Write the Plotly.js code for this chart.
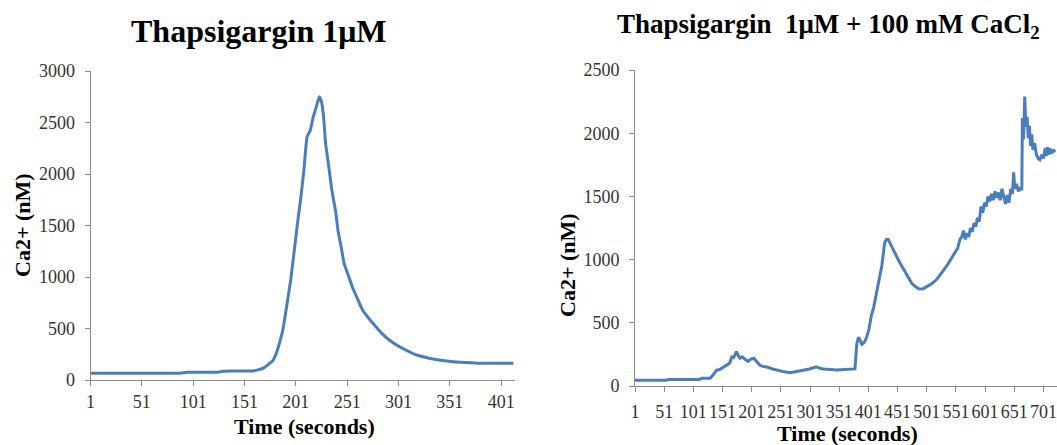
<!DOCTYPE html>
<html>
<head>
<meta charset="utf-8">
<script src="https://cdn.plot.ly/plotly-3.0.1.min.js"></script>
<style>
  html, body { margin: 0; padding: 0; background: #ffffff; }
  #chart { width: 1057px; height: 445px; }
</style>
</head>
<body>
<div id="chart"></div>
<script>
// ---- Left panel: Thapsigargin 1 µM ----
const leftTime = [1, 20, 50, 88, 95, 125, 130, 159, 164, 169, 174, 179, 182, 185, 188, 190, 193, 196, 200, 203, 206, 209, 212, 215, 218, 220, 222, 224, 226, 228, 230, 233, 236, 240, 242, 245, 248, 252, 256, 261, 266, 272, 279, 285, 292, 300, 308, 318, 331, 342, 354, 366, 380, 395, 413];
const leftCa   = [65, 65, 65, 66, 75, 76, 86, 88, 98, 113, 150, 194, 260, 356, 470, 583, 777, 971, 1300, 1550, 1780, 2050, 2362, 2420, 2556, 2620, 2690, 2750, 2700, 2560, 2300, 2080, 1850, 1620, 1456, 1300, 1133, 1020, 906, 790, 680, 600, 518, 450, 388, 335, 291, 245, 211, 192, 178, 170, 162, 162, 162];

// ---- Right panel: Thapsigargin 1 µM + 100 mM CaCl2 ----
const rightTime = [1, 55, 58, 112, 115, 130, 136, 141, 146, 150, 154, 158, 163, 167, 170, 172, 175, 178, 181, 185, 188, 190, 195, 200, 205, 210, 215, 220, 227, 237, 247, 257, 267, 280, 290, 300, 312, 318, 324, 335, 347, 360, 375, 378, 381, 384, 387, 390, 394, 398, 402, 406, 410, 415, 420, 424, 429, 432, 435, 440, 444, 450, 455, 460, 464, 470, 475, 482, 488, 495, 503, 510, 518, 526, 535, 542, 549, 554, 558, 561, 564, 567, 570, 573, 576, 579, 582, 585, 588, 591, 594, 597, 600, 603, 606, 609, 612, 615, 618, 621, 624, 627, 630, 633, 636, 639, 642, 645, 648, 650, 652, 655, 658, 661, 664, 665, 667, 669, 671, 673, 675, 677, 679, 681, 683, 686, 689, 692, 695, 698, 701, 704, 706, 708, 710, 712, 715, 718, 721];
const rightCa   = [45, 45, 52, 52, 62, 62, 95, 125, 130, 140, 150, 165, 180, 230, 225, 250, 272, 240, 220, 230, 215, 210, 195, 215, 218, 190, 165, 155, 150, 135, 122, 112, 105, 115, 125, 135, 152, 140, 135, 130, 127, 130, 132, 135, 330, 385, 360, 330, 345, 385, 450, 555, 620, 740, 850, 950, 1135, 1160, 1160, 1110, 1080, 1020, 975, 935, 905, 850, 815, 785, 768, 770, 790, 810, 842, 890, 948, 1000, 1055, 1090, 1160, 1180, 1230, 1160, 1210, 1180, 1250, 1220, 1290, 1260, 1330, 1300, 1420, 1370, 1450, 1420, 1500, 1460, 1520, 1470, 1540, 1490, 1530, 1470, 1560, 1490, 1440, 1510, 1450, 1560, 1520, 1690, 1560, 1600, 1540, 1570, 1550, 2120, 1950, 2290, 2050, 2130, 1960, 2060, 1900, 1990, 1870, 1920, 1830, 1800, 1790, 1830, 1800, 1880, 1820, 1890, 1830, 1880, 1840, 1870, 1850];

const leftTicks  = [1, 51, 101, 151, 201, 251, 301, 351, 401];
const rightTicks = [1, 51, 101, 151, 201, 251, 301, 351, 401, 451, 501, 551, 601, 651, 701];
const leftYTicks  = [0, 500, 1000, 1500, 2000, 2500, 3000];
const rightYTicks = [0, 500, 1000, 1500, 2000, 2500];

const leftTitle   = 'Thapsigargin 1μM';
const rightTitle  = 'Thapsigargin  1μM + 100 mM CaCl<sub>2</sub>';
const yTitle      = 'Ca2+ (nM)';
const xTitle      = 'Time (seconds)';

const W = 1057, H = 445;
const px = v => v / W;
const py = v => 1 - v / H;

const FONT = 'Liberation Serif';
const AXIS_COLOR = '#8c8c8c';
const LINE_COLOR = '#4A7EBB';

const baseAxis = {
  showgrid: false,
  zeroline: false,
  showline: true,
  linecolor: AXIS_COLOR,
  linewidth: 1,
  ticks: 'outside',
  ticklen: 5,
  tickwidth: 1,
  tickcolor: AXIS_COLOR,
  tickfont: { family: FONT, size: 18, color: '#333333' },
  fixedrange: true
};

const data = [
  {
    x: leftTime, y: leftCa, type: 'scatter', mode: 'lines',
    line: { color: LINE_COLOR, width: 3, shape: 'spline', smoothing: 0.5 },
    xaxis: 'x', yaxis: 'y', hoverinfo: 'skip'
  },
  {
    x: rightTime, y: rightCa, type: 'scatter', mode: 'lines',
    line: { color: LINE_COLOR, width: 3 },
    xaxis: 'x2', yaxis: 'y2', hoverinfo: 'skip'
  }
];

const layout = {
  width: W, height: H,
  margin: { l: 0, r: 0, t: 0, b: 0, pad: 0 },
  paper_bgcolor: '#ffffff',
  plot_bgcolor: '#ffffff',
  showlegend: false,
  font: { family: FONT },
  xaxis: Object.assign({}, baseAxis, {
    domain: [px(90.5), px(515)],
    range: [1, 414.5],
    tickmode: 'array', tickvals: leftTicks, ticktext: leftTicks.map(String),
    anchor: 'y', ticklabelstandoff: 0
  }),
  yaxis: Object.assign({}, baseAxis, {
    domain: [py(380), py(71)],
    range: [0, 3000],
    tickmode: 'array', tickvals: leftYTicks, ticktext: leftYTicks.map(String),
    anchor: 'x', ticklabelstandoff: 6
  }),
  xaxis2: Object.assign({}, baseAxis, {
    domain: [px(635), 1],
    range: [1, 724.3],
    tickmode: 'array', tickvals: rightTicks, ticktext: rightTicks.map(String),
    anchor: 'y2', ticklabelstandoff: 4
  }),
  yaxis2: Object.assign({}, baseAxis, {
    domain: [py(386), py(70)],
    range: [0, 2500],
    tickmode: 'array', tickvals: rightYTicks, ticktext: rightYTicks.map(String),
    anchor: 'x2', ticklabelstandoff: 6
  }),
  annotations: [
    { text: '<b>' + leftTitle + '</b>', xref: 'paper', yref: 'paper', x: px(258.5), y: py(31),
      xanchor: 'center', yanchor: 'middle', showarrow: false,
      font: { family: FONT, size: 32, color: '#000000' } },
    { text: '<b>' + rightTitle + '</b>', xref: 'paper', yref: 'paper', x: px(828), y: py(26),
      xanchor: 'center', yanchor: 'middle', showarrow: false,
      font: { family: FONT, size: 27, color: '#000000' } },
    { text: '<b>' + yTitle + '</b>', xref: 'paper', yref: 'paper', x: px(22), y: py(225),
      xanchor: 'center', yanchor: 'middle', showarrow: false, textangle: -90,
      font: { family: FONT, size: 22, color: '#000000' } },
    { text: '<b>' + yTitle + '</b>', xref: 'paper', yref: 'paper', x: px(567), y: py(265),
      xanchor: 'center', yanchor: 'middle', showarrow: false, textangle: -90,
      font: { family: FONT, size: 22, color: '#000000' } },
    { text: '<b>' + xTitle + '</b>', xref: 'paper', yref: 'paper', x: px(304), y: py(426),
      xanchor: 'center', yanchor: 'middle', showarrow: false,
      font: { family: FONT, size: 22, color: '#000000' } },
    { text: '<b>' + xTitle + '</b>', xref: 'paper', yref: 'paper', x: px(847), y: py(433),
      xanchor: 'center', yanchor: 'middle', showarrow: false,
      font: { family: FONT, size: 22, color: '#000000' } }
  ]
};

Plotly.newPlot('chart', data, layout, { staticPlot: true, displayModeBar: false });
</script>
</body>
</html>
